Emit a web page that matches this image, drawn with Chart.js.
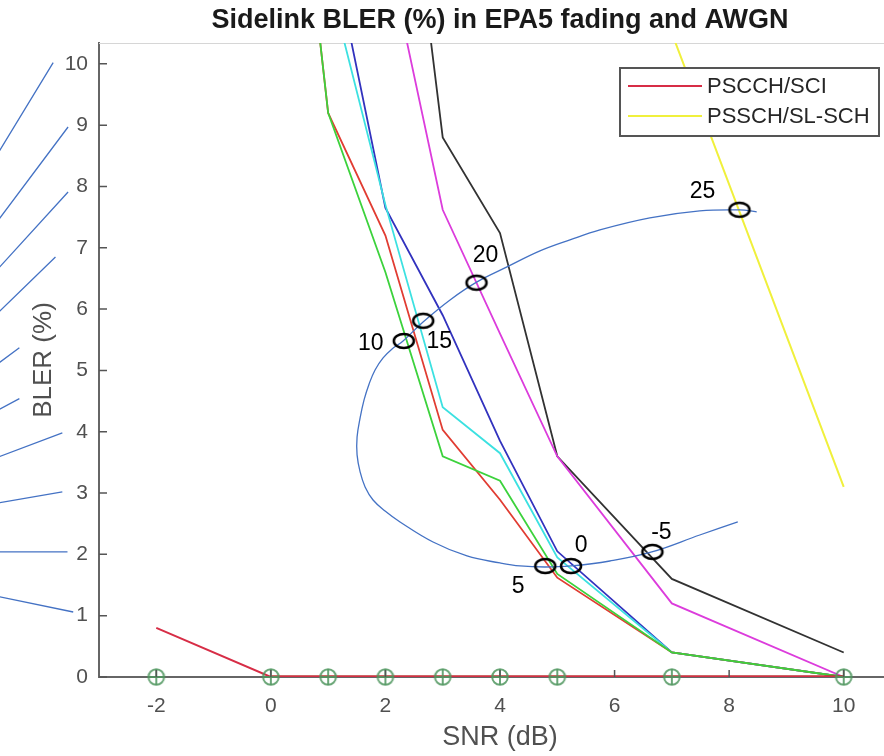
<!DOCTYPE html>
<html>
<head>
<meta charset="utf-8">
<style>
  html, body { margin: 0; padding: 0; overflow: hidden; background: #fff; }
  canvas { display: block; }
</style>
<script src="https://cdn.jsdelivr.net/npm/chart.js@4.4.1/dist/chart.umd.min.js"></script>
</head>
<body>
<canvas id="chart" width="904" height="756"></canvas>
<script>
// SNR points (dB)
const snr = [-2, 0, 1, 2, 3, 4, 5, 7, 10];
const xTicks = [-2, 0, 2, 4, 6, 8, 10];
const yTicks = [0, 1, 2, 3, 4, 5, 6, 7, 8, 9, 10];

// BLER (%) per SNR point, null = not plotted
const pscch = [0.8, 0, 0, 0, 0, 0, 0, 0, 0];
const pssch = [null, null, null, null, null, null, 15.3, 10.5, 3.1];
const awgnZero = [null, 0, 0, 0, 0, 0, 0, 0, 0];
const fadRed = [null, 17.5, 9.2, 7.2, 4.03, 2.89, 1.62, 0.4, 0];
const fadGreen = [null, 17.5, 9.2, 6.6, 3.6, 3.2, 1.68, 0.4, 0];
const fadCyan = [null, null, 11.4, 7.7, 4.4, 3.65, 1.95, 0.4, 0];
const fadBlue = [null, null, 12.2, 7.65, 5.9, 3.85, 2.05, 0.4, 0];
const fadMagenta = [null, null, null, 12.0, 7.62, 5.6, 3.6, 1.2, 0];
const fadBlack = [null, null, null, 16.4, 8.8, 7.24, 3.6, 1.6, 0.4];

// overlaid blue curve (in axis units)
const spiralX = [8.151, 7.487, 6.650, 5.918, 5.238, 4.785, 4.349, 4.000, 3.424, 2.831, 2.255, 1.994, 1.784, 1.645, 1.558, 1.505, 1.505, 1.558, 1.627, 1.715, 1.819, 1.959, 2.116, 2.308, 2.657, 3.128, 3.599, 4.122, 4.698, 5.221, 5.744, 6.616, 7.487, 8.185, 8.481];
const spiralY = [2.529, 2.316, 2.039, 1.892, 1.811, 1.794, 1.811, 1.860, 1.974, 2.202, 2.529, 2.708, 2.887, 3.100, 3.344, 3.622, 3.915, 4.225, 4.519, 4.780, 5.008, 5.204, 5.351, 5.481, 5.791, 6.150, 6.444, 6.688, 6.949, 7.129, 7.292, 7.488, 7.602, 7.618, 7.586];

// marked points on the curve
const markLabels = ['10', '15', '20', '25', '0', '5', '-5'];
const markX = [2.32, 2.66, 3.59, 8.18, 5.24, 4.79, 6.66];
const markY = [5.48, 5.81, 6.43, 7.62, 1.81, 1.81, 2.04];

// leader lines left of the axis
const leaderStartX = -4.75;
const leaderStartY = [1.31, 2.04, 2.84, 3.59, 4.36, 5.12, 5.95, 6.67, 7.46, 8.56];
const leaderEndX = [-3.45, -3.55, -3.64, -3.64, -4.39, -4.39, -3.76, -3.54, -3.54, -3.80];
const leaderEndY = [1.06, 2.04, 3.02, 3.98, 4.54, 5.37, 6.85, 7.91, 8.97, 10.02];

const FONT = "'Liberation Sans', Arial, sans-serif";
const GREY = '#505050';

function pts(xs, ys) {
  const out = [];
  xs.forEach((x, i) => { if (ys[i] !== null) out.push({ x: x, y: ys[i] }); });
  return out;
}

function leaderPoints() {
  const out = [];
  leaderStartY.forEach((y0, i) => {
    out.push({ x: leaderStartX, y: y0 });
    out.push({ x: leaderEndX[i], y: leaderEndY[i] });
    out.push({ x: leaderEndX[i], y: null });
  });
  return out;
}

// open ellipse marker
const ring = document.createElement('canvas');
ring.width = 26; ring.height = 20;
(function () {
  const c = ring.getContext('2d');
  c.strokeStyle = '#000'; c.lineWidth = 2.5;
  c.beginPath(); c.ellipse(13, 10, 10, 7, 0, 0, Math.PI * 2); c.stroke();
})();

// circle-plus marker
const plusRing = document.createElement('canvas');
plusRing.width = 20; plusRing.height = 20;
(function () {
  const c = plusRing.getContext('2d');
  c.strokeStyle = 'rgba(80,150,95,0.85)'; c.lineWidth = 2;
  c.beginPath(); c.arc(10, 10, 7.8, 0, Math.PI * 2); c.stroke();
  c.beginPath(); c.moveTo(10, 2.2); c.lineTo(10, 17.8); c.moveTo(2.2, 10); c.lineTo(17.8, 10); c.stroke();
})();

function line(label, ys, color, width) {
  return {
    label: label, data: pts(snr, ys), showLine: true,
    borderColor: color, backgroundColor: color, borderWidth: width || 1.8,
    pointRadius: 0, tension: 0
  };
}

const legendItems = ['PSCCH/SCI', 'PSSCH/SL-SCH'];

const overlay = {
  id: 'overlay',
  beforeDatasetsDraw(chart) {
    const { ctx, chartArea: a } = chart;
    ctx.save();
    ctx.strokeStyle = '#d6d6d6'; ctx.lineWidth = 1;
    ctx.beginPath(); ctx.moveTo(a.left, a.top + 0.5); ctx.lineTo(a.right, a.top + 0.5); ctx.stroke();
    ctx.restore();
  },
  afterDraw(chart) {
    const { ctx, chartArea: a, scales: { x, y } } = chart;
    ctx.save();
    // inner tick marks
    ctx.strokeStyle = '#555'; ctx.lineWidth = 1.5;
    ctx.beginPath();
    xTicks.forEach(v => { const px = x.getPixelForValue(v); ctx.moveTo(px, a.bottom); ctx.lineTo(px, a.bottom - 7); });
    yTicks.forEach(v => { const py = y.getPixelForValue(v); ctx.moveTo(a.left, py); ctx.lineTo(a.left + 8, py); });
    ctx.stroke();

    // title
    ctx.fillStyle = '#1a1a1a';
    ctx.font = 'bold 27px ' + FONT;
    ctx.textAlign = 'center'; ctx.textBaseline = 'middle';
    ctx.fillText('Sidelink BLER (%) in EPA5 fading and AWGN', (a.left + a.right) / 2, 21);

    // labels beside the marked points
    const offs = { '10': [-33, 3], '15': [16, 21], '20': [9, -27], '25': [-37, -18], '0': [10, -20], '5': [-27, 21], '-5': [9, -19] };
    const meta = chart.getDatasetMeta(0);
    ctx.fillStyle = '#000';
    ctx.font = '23px ' + FONT;
    markLabels.forEach((t, i) => {
      const p = meta.data[i];
      ctx.fillText(t, p.x + offs[t][0], p.y + offs[t][1]);
    });

    // legend
    const w = 259, h = 68;
    const lx = a.right - 22 - w, ly = a.top + 25;
    ctx.fillStyle = '#fff';
    ctx.fillRect(lx, ly, w, h);
    ctx.strokeStyle = '#555'; ctx.lineWidth = 2;
    ctx.strokeRect(lx, ly, w, h);
    ctx.font = '22px ' + FONT;
    ctx.textAlign = 'left';
    legendItems.forEach((name, i) => {
      const ds = chart.data.datasets.find(d => d.label === name);
      const yy = ly + 18 + i * 30;
      ctx.strokeStyle = ds.borderColor; ctx.lineWidth = 2;
      ctx.beginPath(); ctx.moveTo(lx + 8, yy); ctx.lineTo(lx + 82, yy); ctx.stroke();
      ctx.fillStyle = '#262626';
      ctx.fillText(name, lx + 87, yy + 1);
    });
    ctx.restore();
  }
};

new Chart(document.getElementById('chart'), {
  type: 'scatter',
  data: {
    datasets: [
      { label: 'marks', data: pts(markX, markY), pointStyle: ring, pointRadius: 10, showLine: false },
      { label: 'curve', data: pts(spiralX, spiralY), showLine: true, borderColor: '#4472c4', borderWidth: 1.3, pointRadius: 0, tension: 0.4 },
      { label: 'leaders', data: leaderPoints(), showLine: true, spanGaps: false, borderColor: '#4472c4', borderWidth: 1.3, pointRadius: 0, clip: false },
      { label: 'zero', data: pts(snr, snr.map(() => 0)), pointStyle: plusRing, pointRadius: 9, showLine: false, clip: false },
      line('PSCCH/SCI', pscch, 'rgb(215,45,70)', 2),
      line('awgn', awgnZero, 'rgb(190,50,50)', 3.5),
      line('PSSCH/SL-SCH', pssch, 'rgb(240,240,60)', 2),
      line('f-green', fadGreen, 'rgb(60,210,60)'),
      line('f-red', fadRed, 'rgb(225,60,50)'),
      line('f-cyan', fadCyan, 'rgb(60,225,225)'),
      line('f-blue', fadBlue, 'rgb(50,50,190)'),
      line('f-magenta', fadMagenta, 'rgb(220,60,220)'),
      line('f-black', fadBlack, 'rgb(50,50,50)')
    ]
  },
  options: {
    responsive: false,
    animation: false,
    layout: { autoPadding: false, padding: { top: 43, right: 3, bottom: 0, left: 0 } },
    plugins: { legend: { display: false }, tooltip: { enabled: false } },
    scales: {
      x: {
        type: 'linear', min: -3, max: 11,
        afterFit(s) { s.height = 79; s.paddingLeft = 0; s.paddingRight = 0; },
        afterBuildTicks(s) { s.ticks = xTicks.map(v => ({ value: v })); },
        ticks: { font: { family: FONT, size: 21 }, color: GREY, padding: 17 },
        grid: { display: false, drawTicks: false },
        border: { color: '#666', width: 2 },
        title: { display: true, text: 'SNR (dB)', font: { family: FONT, size: 27 }, color: GREY, padding: { top: 0, bottom: 2 } }
      },
      y: {
        min: 0, max: 10.34,
        afterFit(s) { s.width = 99; s.paddingTop = 0; s.paddingBottom = 0; },
        afterBuildTicks(s) { s.ticks = yTicks.map(v => ({ value: v })); },
        ticks: { font: { family: FONT, size: 21 }, color: GREY, padding: 11 },
        grid: { display: false, drawTicks: false },
        border: { color: '#666', width: 2 },
        title: { display: true, text: 'BLER (%)', font: { family: FONT, size: 26 }, color: GREY, padding: { top: 28, bottom: 0 } }
      }
    }
  },
  plugins: [overlay]
});
</script>
</body>
</html>
